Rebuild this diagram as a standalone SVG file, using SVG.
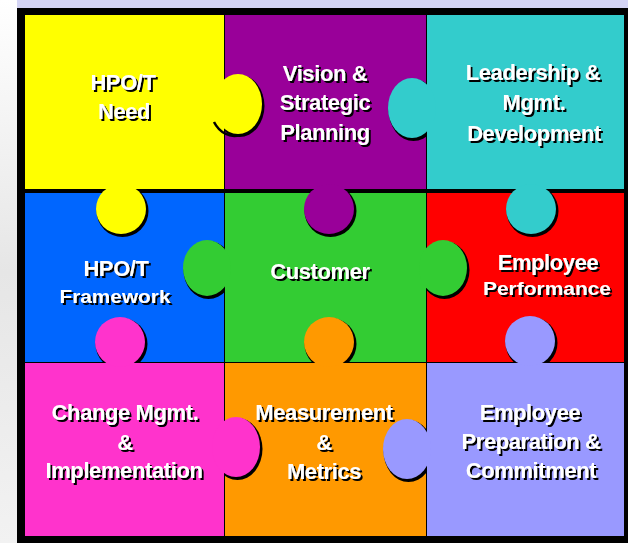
<svg xmlns="http://www.w3.org/2000/svg" width="628" height="543" viewBox="0 0 628 543">
<defs>
<linearGradient id="bgL" x1="0" y1="0" x2="0" y2="1">
<stop offset="0" stop-color="#ffffff"/>
<stop offset="0.5" stop-color="#e6e6e6"/>
<stop offset="1" stop-color="#f2f2f2"/>
</linearGradient>
<filter id="ts" x="-10%" y="-30%" width="120%" height="160%">
<feOffset in="SourceAlpha" dx="2" dy="2" result="o"/>
<feComponentTransfer in="o" result="d"><feFuncA type="linear" slope="1"/></feComponentTransfer>
<feMerge><feMergeNode in="d"/><feMergeNode in="SourceGraphic"/></feMerge>
</filter>
<style>
.t{font-family:"Liberation Sans",Arial,sans-serif;font-weight:bold;font-size:22px;letter-spacing:-0.4px;text-anchor:middle;fill:#ffffff}
.sm{font-size:17.5px;letter-spacing:0}
.ks{fill:#000000}
</style>
</defs>
<rect x="0" y="0" width="628" height="543" fill="url(#bgL)"/>
<rect x="17" y="0" width="611" height="8" fill="#d4d4f4"/>
<rect x="17" y="8" width="611" height="535" fill="#000000"/>

<g id="blue">
<rect x="25" y="193" width="199" height="169" fill="#0066ff"/>
<g class="t" filter="url(#ts)"><text x="116" y="276">HPO/T</text><text x="115" y="303" class="sm" textLength="111" lengthAdjust="spacingAndGlyphs">Framework</text></g>
</g>

<g id="red">
<rect x="427" y="193" width="197" height="169" fill="#ff0000"/>
<g class="t" filter="url(#ts)"><text x="548" y="270">Employee</text><text x="547" y="295" class="sm" textLength="128" lengthAdjust="spacingAndGlyphs">Performance</text></g>
</g>

<g id="green">
<ellipse class="ks" cx="208.5" cy="270" rx="25" ry="29"/>
<ellipse class="ks" cx="444.5" cy="270" rx="25" ry="29"/>
<rect x="225" y="193" width="201" height="169" fill="#33cc33"/>
<ellipse cx="207" cy="268" rx="24" ry="28" fill="#33cc33"/>
<ellipse cx="443" cy="268" rx="24" ry="28" fill="#33cc33"/>
<g class="t" filter="url(#ts)"><text x="320" y="279">Customer</text></g>
</g>

<g id="purple">
<circle class="ks" cx="330.5" cy="211" r="26"/>
<rect x="225" y="15" width="201" height="174" fill="#990099"/>
<circle cx="329" cy="209" r="25" fill="#990099"/>
<g class="t" filter="url(#ts)"><text x="325" y="81">Vision &amp;</text><text x="325" y="110">Strategic</text><text x="325" y="140">Planning</text></g>
</g>

<g id="orange">
<circle class="ks" cx="330.5" cy="344" r="26"/>
<rect x="225" y="363" width="201" height="173" fill="#ff9900"/>
<circle cx="329" cy="342" r="25" fill="#ff9900"/>
<g class="t" filter="url(#ts)"><text x="324" y="420">Measurement</text><text x="324" y="450">&amp;</text><text x="324" y="479">Metrics</text></g>
</g>

<g id="yellow">
<ellipse class="ks" cx="239.5" cy="106" rx="25" ry="31"/>
<circle class="ks" cx="122.5" cy="211" r="26"/>
<rect x="25" y="15" width="199" height="174" fill="#ffff00"/>
<path d="M214,122 A24,30 0 0 0 240,135" fill="none" stroke="#000000" stroke-width="2.5"/>
<ellipse cx="238" cy="104" rx="24" ry="30" fill="#ffff00"/>
<circle cx="121" cy="209" r="25" fill="#ffff00"/>
<g class="t" filter="url(#ts)"><text x="123" y="90">HPO/T</text><text x="124" y="119">Need</text></g>
</g>

<g id="cyan">
<ellipse class="ks" cx="413.5" cy="110" rx="25" ry="31"/>
<circle class="ks" cx="532.5" cy="211" r="26"/>
<rect x="427" y="15" width="197" height="174" fill="#33cccc"/>
<ellipse cx="412" cy="108" rx="24" ry="30" fill="#33cccc"/>
<circle cx="531" cy="209" r="25" fill="#33cccc"/>
<g class="t" filter="url(#ts)"><text x="533" y="80">Leadership &amp;</text><text x="534" y="110">Mgmt.</text><text x="534" y="141">Development</text></g>
</g>

<g id="pink">
<circle class="ks" cx="121.5" cy="344" r="26"/>
<ellipse class="ks" cx="237.5" cy="449" rx="25" ry="31"/>
<rect x="25" y="363" width="199" height="173" fill="#ff33cc"/>
<circle cx="120" cy="342" r="25" fill="#ff33cc"/>
<ellipse cx="236" cy="447" rx="24" ry="30" fill="#ff33cc"/>
<g class="t" filter="url(#ts)"><text x="125" y="420">Change Mgmt.</text><text x="125" y="450">&amp;</text><text x="124" y="478">Implementation</text></g>
</g>

<g id="lavender">
<circle class="ks" cx="531.5" cy="343" r="26"/>
<ellipse class="ks" cx="408.5" cy="451" rx="25" ry="31"/>
<rect x="427" y="363" width="197" height="173" fill="#9999ff"/>
<circle cx="530" cy="341" r="25" fill="#9999ff"/>
<ellipse cx="407" cy="449" rx="24" ry="30" fill="#9999ff"/>
<g class="t" filter="url(#ts)"><text x="530" y="420">Employee</text><text x="531" y="449">Preparation &amp;</text><text x="531" y="478">Commitment</text></g>
</g>

<g id="connectors"></g>
</svg>
